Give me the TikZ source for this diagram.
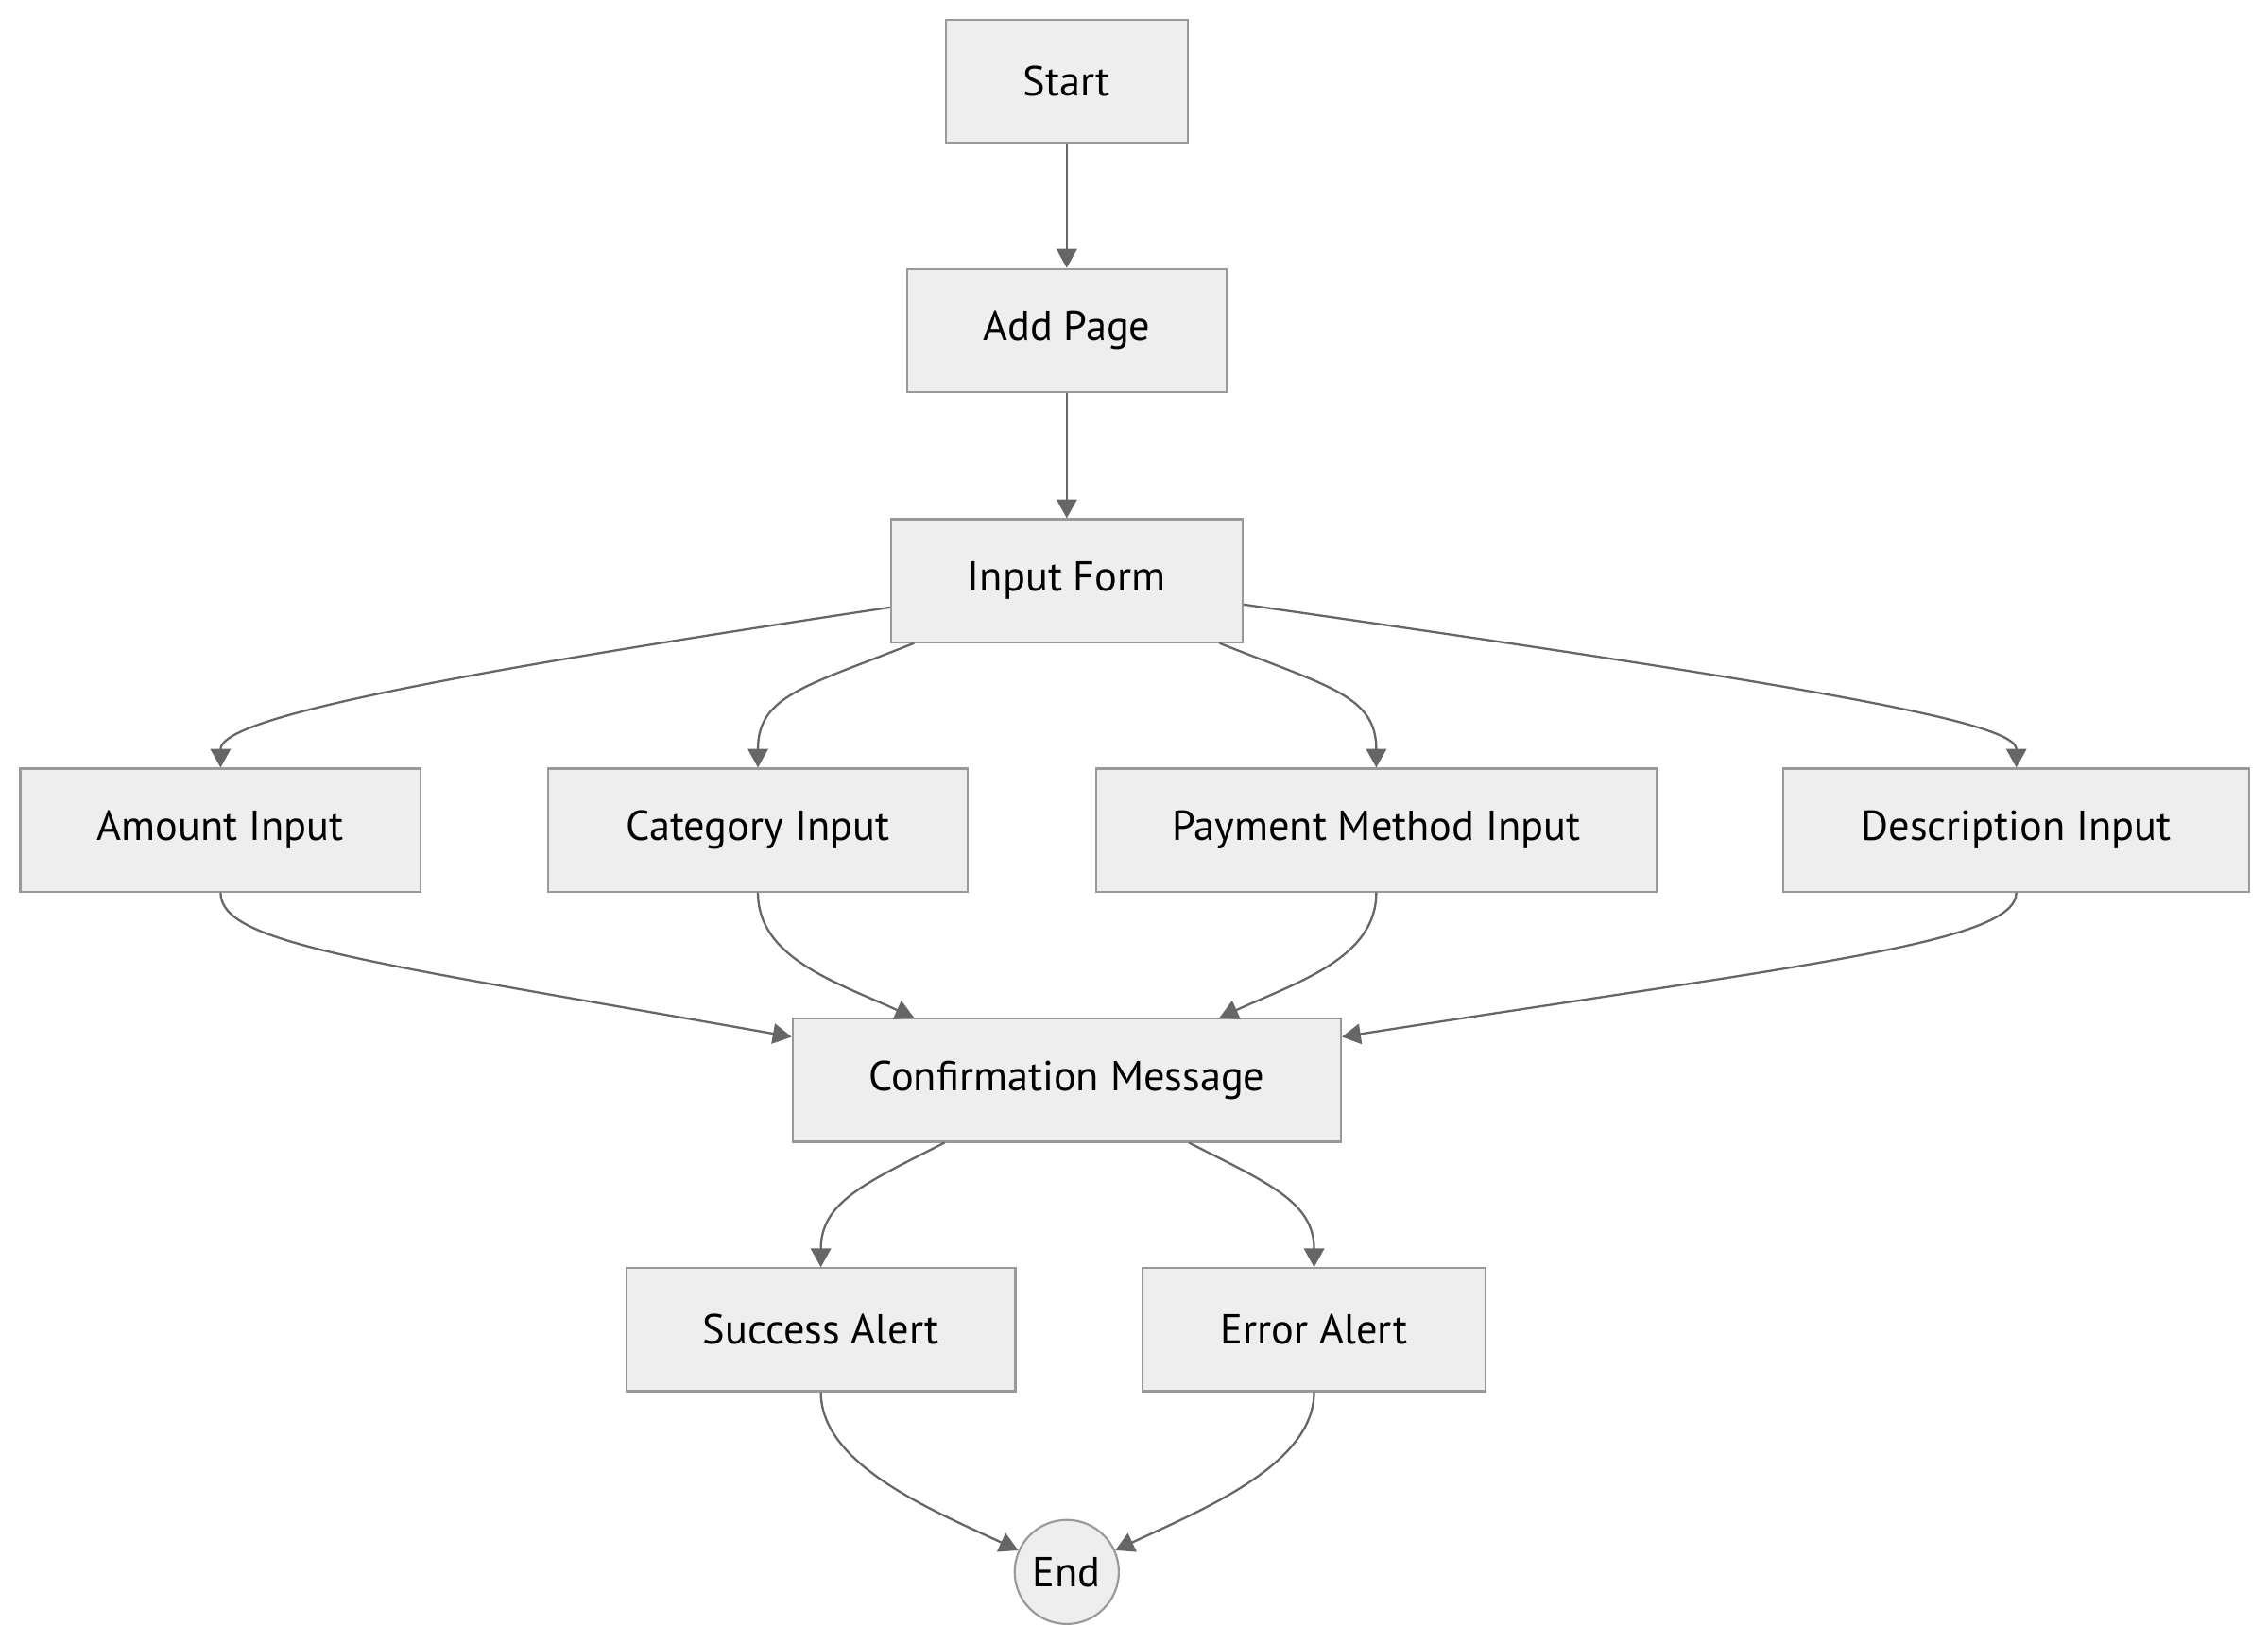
\documentclass[tikz,border=0pt]{standalone}
\usepackage{fontspec}
\setmainfont{PT Sans}
\usetikzlibrary{arrows.meta}
\definecolor{boxFill}{HTML}{EEEEEE}
\definecolor{boxBorder}{HTML}{999999}
\definecolor{lineColor}{HTML}{666666}
\tikzstyle{flowchart} = [x = 1pt, y = -1pt]
\tikzstyle{stepStyle} = [draw=boxBorder, fill=boxFill, line width=1.4pt, minimum height=85pt, inner sep=0pt, font=\fontsize{29}{34}\selectfont]
\tikzstyle{endStyle} = [circle, draw=boxBorder, fill=boxFill, line width=1.4pt, minimum size=72pt, inner sep=0pt, font=\fontsize{29}{34}\selectfont]
\tikzstyle{flowLine} = [color=lineColor, line width=1.5pt, -{Triangle[length=13pt, width=14pt]}]
\newcommand{\stepBox}[4]{\node [stepStyle, minimum width = #3pt] (#1) at (#2) {#4};}
\newcommand{\straightArrow}[2]{\draw [flowLine] (#1) -- (#2);}
\newcommand{\curvedArrow}[4]{\draw [flowLine] (#1) .. controls +(#3) and +(#4) .. (#2);}

\begin{document}
\begin{tikzpicture}[flowchart]
          \useasboundingbox (0,0) rectangle (1568,1136);
          \stepBox{start}{737.5,56}{167}{Start}
          \stepBox{addPage}{737.5,228.5}{221}{Add Page}
          \stepBox{inputForm}{737.5,401.5}{243}{Input Form}
          \stepBox{amount}{152.5,574}{277}{Amount Input}
          \stepBox{category}{524,574}{290}{Category Input}
          \stepBox{payment}{951.5,574}{387}{Payment Method Input}
          \stepBox{description}{1394,574}{322}{Description Input}
          \stepBox{confirmation}{737.5,747}{379}{Confirmation Message}
          \stepBox{success}{567.5,919.5}{269}{Success Alert}
          \stepBox{error}{908.5,919.5}{237}{Error Alert}
          \node [endStyle] (endNode) at (737.5,1087) {End};

          \straightArrow{start}{addPage}
          \straightArrow{addPage}{inputForm}
          \curvedArrow{[yshift=-18.5pt]inputForm.west}{amount.north}{-346,52}{0,-32}
          \curvedArrow{[xshift=-105.5pt]inputForm.south}{category.north}{-75,30}{0,-50}
          \curvedArrow{[xshift=105.5pt]inputForm.south}{payment.north}{75,30}{0,-50}
          \curvedArrow{[yshift=-16.5pt]inputForm.east}{description.north}{420,60}{0,-30}

          \curvedArrow{amount.south}{[yshift=30pt]confirmation.west}{0,35}{-300,-53}
          \curvedArrow{category.south}{[xshift=-105.5pt]confirmation.north}{0,45}{-55,-25}
          \curvedArrow{payment.south}{[xshift=105.5pt]confirmation.north}{0,45}{55,-25}
          \curvedArrow{description.south}{[yshift=30pt]confirmation.east}{0,35}{320,-50}

          \curvedArrow{[xshift=-84.5pt]confirmation.south}{success.north}{-55,28}{0,-45}
          \curvedArrow{[xshift=84.5pt]confirmation.south}{error.north}{55,28}{0,-45}
          \curvedArrow{success.south}{endNode.156}{0,50}{-60,-28}
          \curvedArrow{error.south}{endNode.24}{0,50}{60,-28}
        \end{tikzpicture}
\end{document}
